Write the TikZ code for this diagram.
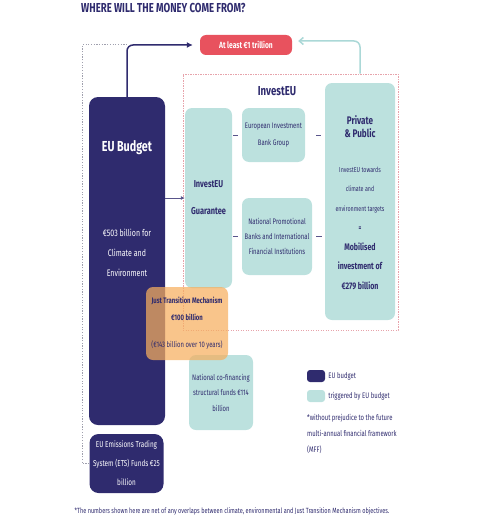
\documentclass[tikz,border=0pt]{standalone}
\usepackage{fontspec}
\setmainfont{Fira Sans}[FakeStretch=0.74]
\usepackage{tikz}
\usetikzlibrary{positioning,arrows.meta,calc}
\definecolor{eunavy}{HTML}{2F2B6E}
\definecolor{euteal}{HTML}{BCE1DE}
\definecolor{eured}{HTML}{E8525E}
\definecolor{euorange}{HTML}{F6AE5E}
\definecolor{eupink}{HTML}{E7A3AB}
\definecolor{eugrey}{HTML}{A0A0AE}
\definecolor{euarrow}{HTML}{ABD8D7}
\newcommand{\bigbf}[1]{{\fontsize{9.5}{19.5}\selectfont\bfseries #1}}

\begin{document}
\begin{tikzpicture}[
    x=1pt, y=-1pt,
    every node/.style={inner sep=0pt, align=center},
    budget/.style={rectangle, rounded corners=9pt, fill=eunavy, text=white},
    trig/.style={rectangle, rounded corners=7pt, fill=euteal, text=eunavy},
    total/.style={rectangle, rounded corners=6pt, fill=eured, text=white, font=\fontsize{9}{10}\selectfont\bfseries},
    jtm/.style={rectangle, rounded corners=7pt, fill=euorange, fill opacity=0.72, text opacity=1, text=eunavy},
    frame/.style={draw=eupink, dash pattern=on 1.2pt off 1.3pt, line width=1pt},
    rail/.style={draw=eugrey, dash pattern=on 1.2pt off 1.5pt, line width=1pt},
    link/.style={draw=eunavy!80, line width=0.9pt},
    head/.style={font=\fontsize{13}{14}\selectfont\bfseries, text=eunavy},
    note/.style={font=\fontsize{8}{16}\selectfont, text=eunavy}
]
    \useasboundingbox (0,0) rectangle (482,519);

    % Title
    \node[head, anchor=west] (title) at (81,8) {WHERE WILL THE MONEY COME FROM?};

    % InvestEU frame
    \node[frame, minimum width=215pt, minimum height=256pt] (investeu) at (290.5,202) {};
    \node[head] (investeutitle) at (277,91) {InvestEU};

    % EU budget
    \node[budget, minimum width=76pt, minimum height=328pt] (budget) at (127,261) {};
    \node[font=\fontsize{14.5}{15}\selectfont\bfseries, text=white] (budgettitle) at (127,148) {EU Budget};
    \node[font=\fontsize{9.5}{20}\selectfont, text=white] (budgettext) at (127,253) {€503 billion for\\Climate and\\Environment};

    % Guarantee and partners
    \node[trig, minimum width=47pt, minimum height=180pt, font=\fontsize{10}{27}\selectfont\bfseries] (guarantee) at (208.5,198) {InvestEU\\Guarantee};
    \node[trig, minimum width=63pt, minimum height=54pt, font=\fontsize{8}{17}\selectfont] (eib) at (273.5,135) {European Investment\\Bank Group};
    \node[trig, minimum width=70pt, minimum height=77pt, font=\fontsize{8}{15}\selectfont] (npb) at (277,236.5) {National Promotional\\Banks and International\\Financial Institutions};

    % Private and public
    \node[trig, minimum width=70pt, minimum height=237pt] (private) at (360,201.5) {};
    \node[font=\fontsize{11}{13}\selectfont\bfseries, text=eunavy] (privatetitle) at (360,127) {Private\\\& Public};
    \node[font=\fontsize{7.2}{19.5}\selectfont, text=eunavy] (privatetext) at (360,228) {InvestEU towards\\climate and\\environment targets\\\textbf{=}\\\bigbf{Mobilised}\\\bigbf{investment of}\\\bigbf{€279 billion}};

    % Other funds
    \node[trig, minimum width=64pt, minimum height=75pt, font=\fontsize{8}{15.5}\selectfont] (cofin) at (221,392.5) {National co-financing\\structural funds €114\\billion};
    \node[budget, minimum width=74pt, minimum height=59pt, font=\fontsize{8.6}{19}\selectfont] (ets) at (126.5,463.5) {EU Emissions Trading\\System (ETS) Funds €25\\billion};

    % Just Transition Mechanism
    \node[jtm, minimum width=82pt, minimum height=73pt, font=\fontsize{8}{17}\selectfont] (jtm) at (187,323.5) {\textbf{Just Transition Mechanism}\\\textbf{€100 billion}\\[10pt](€143 billion over 10 years)};

    % Total
    \node[total, minimum width=92pt, minimum height=20pt] (target) at (246,45) {At least €1 trillion};

    % Legend
    \node[budget, rounded corners=3pt, minimum width=18pt, minimum height=12pt] (keybudget) at (316,376) {};
    \node[trig, rounded corners=3pt, minimum width=18pt, minimum height=12pt] (keytrig) at (316,396) {};
    \node[note, right=3pt of keybudget] (keybudgetlabel) {EU budget};
    \node[note, right=3pt of keytrig] (keytriglabel) {triggered by EU budget};
    \node[note, anchor=north west, align=left] (keynote) at (307,414) {*without prejudice to the future\\multi-annual financial framework\\(MFF)};

    % Footnote
    \node[font=\fontsize{7.5}{9}\selectfont, text=eunavy] (footnote) at (232,511) {*The numbers shown here are net of any overlaps between climate, environmental and Just Transition Mechanism objectives.};

    % Arrows
    \coordinate (bend) at (127,45);
    \coordinate (railtop) at (82,45);
    \draw[rail] (ets.west) -| (railtop) -- (bend);
    \draw[eunavy, line width=1.5pt, rounded corners=6pt, shorten >=7pt, -{Latex[length=6pt,width=6pt]}] (budget.north) |- (target.west);
    \draw[euarrow, line width=1.5pt, rounded corners=6pt, shorten >=6pt, -{Straight Barb[length=4pt,width=7pt]}] (private.north |- investeu.north) |- ([yshift=4pt]target.east);
    \draw[link, -{Latex[length=4pt,width=4pt]}] (budget.east |- guarantee) -- (guarantee.west);
    \draw[link, shorten <=1pt, shorten >=4pt] (guarantee.east |- eib) -- (eib.west);
    \draw[link, shorten <=11pt, shorten >=4pt] (eib.east) -- (private.west |- eib);
    \draw[link, shorten <=1pt, shorten >=4pt] (guarantee.east |- npb) -- (npb.west);
    \draw[link, shorten <=4pt, shorten >=3pt] (npb.east) -- (private.west |- npb);
\end{tikzpicture}
\end{document}
